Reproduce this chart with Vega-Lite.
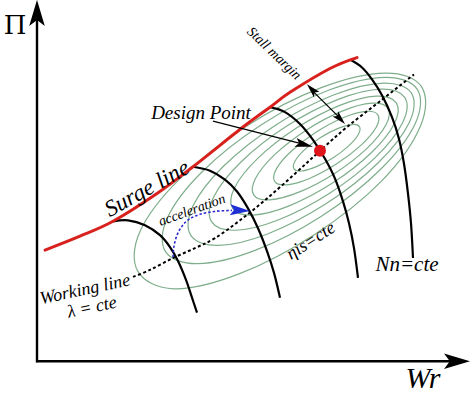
{
  "$schema": "https://vega.github.io/schema/vega-lite/v6.json",
  "width": 474,
  "height": 394,
  "padding": 0,
  "autosize": {"type": "fit", "contains": "padding"},
  "background": "white",
  "config": {"view": {"stroke": null}, "text": {"font": "'Liberation Serif', 'DejaVu Serif', serif"}},
  "datasets": {
    "ellipses": [
      {"e":1,"k":0,"x":359.4,"y":127.6},{"e":1,"k":1,"x":358.3,"y":135.5},{"e":1,"k":2,"x":348.7,"y":147.0},{"e":1,"k":3,"x":333.2,"y":159.0},{"e":1,"k":4,"x":315.9,"y":168.2},{"e":1,"k":5,"x":301.7,"y":172.3},{"e":1,"k":6,"x":294.0,"y":170.2},{"e":1,"k":7,"x":295.1,"y":162.3},{"e":1,"k":8,"x":304.7,"y":150.8},{"e":1,"k":9,"x":320.2,"y":138.8},{"e":1,"k":10,"x":337.5,"y":129.6},{"e":1,"k":11,"x":351.7,"y":125.5},
      {"e":2,"k":0,"x":377.9,"y":115.7},{"e":2,"k":1,"x":376.2,"y":128.2},{"e":2,"k":2,"x":361.1,"y":146.2},{"e":2,"k":3,"x":336.7,"y":165.1},{"e":2,"k":4,"x":309.5,"y":179.8},{"e":2,"k":5,"x":286.8,"y":186.2},{"e":2,"k":6,"x":274.7,"y":182.7},{"e":2,"k":7,"x":276.4,"y":170.2},{"e":2,"k":8,"x":291.5,"y":152.2},{"e":2,"k":9,"x":315.9,"y":133.3},{"e":2,"k":10,"x":343.1,"y":118.6},{"e":2,"k":11,"x":365.8,"y":112.2},
      {"e":3,"k":0,"x":387.9,"y":109.1},{"e":3,"k":1,"x":386.0,"y":125.8},{"e":3,"k":2,"x":366.7,"y":149.8},{"e":3,"k":3,"x":335.0,"y":174.5},{"e":3,"k":4,"x":299.5,"y":193.4},{"e":3,"k":5,"x":269.8,"y":201.4},{"e":3,"k":6,"x":253.7,"y":196.3},{"e":3,"k":7,"x":255.6,"y":179.6},{"e":3,"k":8,"x":274.9,"y":155.6},{"e":3,"k":9,"x":306.6,"y":130.9},{"e":3,"k":10,"x":342.1,"y":112.0},{"e":3,"k":11,"x":371.8,"y":104.0},
      {"e":4,"k":0,"x":396.3,"y":103.7},{"e":4,"k":1,"x":394.3,"y":124.7},{"e":4,"k":2,"x":371.0,"y":154.2},{"e":4,"k":3,"x":332.5,"y":184.5},{"e":4,"k":4,"x":289.2,"y":207.4},{"e":4,"k":5,"x":252.7,"y":216.7},{"e":4,"k":6,"x":232.7,"y":209.9},{"e":4,"k":7,"x":234.7,"y":188.9},{"e":4,"k":8,"x":258.0,"y":159.4},{"e":4,"k":9,"x":296.5,"y":129.1},{"e":4,"k":10,"x":339.8,"y":106.2},{"e":4,"k":11,"x":376.3,"y":96.9},
      {"e":5,"k":0,"x":404.7,"y":98.2},{"e":5,"k":1,"x":402.7,"y":123.4},{"e":5,"k":2,"x":375.4,"y":158.6},{"e":5,"k":3,"x":330.0,"y":194.5},{"e":5,"k":4,"x":278.8,"y":221.4},{"e":5,"k":5,"x":235.5,"y":232.0},{"e":5,"k":6,"x":211.7,"y":223.6},{"e":5,"k":7,"x":213.7,"y":198.4},{"e":5,"k":8,"x":241.0,"y":163.2},{"e":5,"k":9,"x":286.4,"y":127.3},{"e":5,"k":10,"x":337.6,"y":100.4},{"e":5,"k":11,"x":380.9,"y":89.8},
      {"e":6,"k":0,"x":411.4,"y":93.8},{"e":6,"k":1,"x":409.4,"y":123.1},{"e":6,"k":2,"x":378.5,"y":163.7},{"e":6,"k":3,"x":326.7,"y":204.9},{"e":6,"k":4,"x":268.1,"y":235.5},{"e":6,"k":5,"x":218.4,"y":247.3},{"e":6,"k":6,"x":190.8,"y":237.2},{"e":6,"k":7,"x":192.8,"y":207.9},{"e":6,"k":8,"x":223.7,"y":167.3},{"e":6,"k":9,"x":275.5,"y":126.1},{"e":6,"k":10,"x":334.1,"y":95.5},{"e":6,"k":11,"x":383.8,"y":83.7},
      {"e":7,"k":0,"x":417.3,"y":90.0},{"e":7,"k":1,"x":415.4,"y":124.1},{"e":7,"k":2,"x":380.4,"y":170.8},{"e":7,"k":3,"x":321.4,"y":217.9},{"e":7,"k":4,"x":254.4,"y":252.6},{"e":7,"k":5,"x":197.4,"y":265.7},{"e":7,"k":6,"x":165.5,"y":253.6},{"e":7,"k":7,"x":167.4,"y":219.5},{"e":7,"k":8,"x":202.4,"y":172.8},{"e":7,"k":9,"x":261.4,"y":125.7},{"e":7,"k":10,"x":328.4,"y":91.0},{"e":7,"k":11,"x":385.4,"y":77.9},
      {"e":8,"k":0,"x":421.5,"y":87.3},{"e":8,"k":1,"x":420.5,"y":127.0},{"e":8,"k":2,"x":382.0,"y":182.0},{"e":8,"k":3,"x":315.0,"y":236.0},{"e":8,"k":4,"x":239.0,"y":276.0},{"e":8,"k":5,"x":173.8,"y":291.0},{"e":8,"k":6,"x":137.9,"y":273.5},{"e":8,"k":7,"x":140.0,"y":233.2},{"e":8,"k":8,"x":179.5,"y":180.5},{"e":8,"k":9,"x":245.9,"y":127.4},{"e":8,"k":10,"x":321.3,"y":88.3},{"e":8,"k":11,"x":385.6,"y":73.6}
    ],
    "surge": [
      {"x":45,"y":252},{"x":80,"y":238},{"x":113,"y":223},{"x":157,"y":195},{"x":193,"y":168},{"x":243,"y":128},{"x":270,"y":108},{"x":290,"y":93},{"x":330,"y":69},{"x":357,"y":58}
    ],
    "speed": [
      {"n":1,"x":113,"y":223},{"n":1,"x":128,"y":222},{"n":1,"x":145,"y":227},{"n":1,"x":160,"y":237},{"n":1,"x":170,"y":249},{"n":1,"x":178,"y":263},{"n":1,"x":186,"y":282},{"n":1,"x":192,"y":300},{"n":1,"x":197,"y":315},
      {"n":2,"x":193,"y":168},{"n":2,"x":210,"y":172},{"n":2,"x":225,"y":181},{"n":2,"x":237,"y":193},{"n":2,"x":248,"y":210},{"n":2,"x":258,"y":230},{"n":2,"x":267,"y":253},{"n":2,"x":274,"y":275},{"n":2,"x":280,"y":300},
      {"n":3,"x":270,"y":108},{"n":3,"x":285,"y":113},{"n":3,"x":300,"y":125},{"n":3,"x":313,"y":141},{"n":3,"x":325,"y":160},{"n":3,"x":335,"y":180},{"n":3,"x":343,"y":203},{"n":3,"x":349,"y":225},{"n":3,"x":354,"y":250},{"n":3,"x":358,"y":280},
      {"n":4,"x":350,"y":60},{"n":4,"x":362,"y":68},{"n":4,"x":372,"y":80},{"n":4,"x":382,"y":96},{"n":4,"x":392,"y":118},{"n":4,"x":399,"y":140},{"n":4,"x":404,"y":165},{"n":4,"x":408,"y":195},{"n":4,"x":411,"y":225},{"n":4,"x":413,"y":260}
    ],
    "working": [
      {"x":133,"y":279},{"x":150,"y":272},{"x":173,"y":260},{"x":195,"y":250},{"x":215,"y":240},{"x":240,"y":222},{"x":267,"y":200},{"x":295,"y":175},{"x":320,"y":152},{"x":347,"y":128},{"x":380,"y":102},{"x":414,"y":75}
    ],
    "accel": [
      {"x":173,"y":259},{"x":174,"y":248},{"x":177,"y":237},{"x":182,"y":228},{"x":189,"y":221},{"x":200,"y":216},{"x":215,"y":213},{"x":232,"y":212}
    ]
  },
  "encoding": {
    "x": {"field": "x", "type": "quantitative", "scale": {"domain": [0, 474], "nice": false, "zero": false}, "axis": null},
    "y": {"field": "y", "type": "quantitative", "scale": {"domain": [0, 394], "nice": false, "zero": false, "reverse": true}, "axis": null}
  },
  "layer": [
    {
      "data": {"name": "ellipses"},
      "mark": {"type": "line", "interpolate": "cardinal-closed", "color": "#7fae8c", "strokeWidth": 1.2},
      "encoding": {"detail": {"field": "e", "type": "nominal"}, "order": {"field": "k", "type": "quantitative"}}
    },
    {
      "data": {"name": "working"},
      "mark": {"type": "line", "interpolate": "cardinal", "color": "black", "strokeWidth": 2, "strokeDash": [3, 2.5]},
      "encoding": {"order": {"field": "x", "type": "quantitative"}}
    },
    {
      "data": {"name": "speed"},
      "mark": {"type": "line", "interpolate": "cardinal", "color": "black", "strokeWidth": 2.2},
      "encoding": {"detail": {"field": "n", "type": "nominal"}, "order": {"field": "x", "type": "quantitative"}}
    },
    {
      "data": {"name": "surge"},
      "mark": {"type": "line", "interpolate": "cardinal", "color": "#d8211d", "strokeWidth": 3, "strokeCap": "round"},
      "encoding": {"order": {"field": "x", "type": "quantitative"}}
    },
    {
      "data": {"name": "accel"},
      "mark": {"type": "line", "interpolate": "cardinal", "color": "#2b2bd0", "strokeWidth": 1.6, "strokeDash": [2.5, 2]},
      "encoding": {"order": {"field": "x", "type": "quantitative"}}
    },
    {
      "data": {"values": [{"x": 37, "y": 365, "x2": 37, "y2": 14}, {"x": 36, "y": 364, "x2": 450, "y2": 364}]},
      "mark": {"type": "rule", "color": "black", "strokeWidth": 2.4},
      "encoding": {"x2": {"field": "x2"}, "y2": {"field": "y2"}}
    },
    {
      "data": {"values": [{"x": 213, "y": 122, "x2": 306, "y2": 146}, {"x": 310, "y": 89, "x2": 342, "y2": 121}]},
      "mark": {"type": "rule", "color": "black", "strokeWidth": 1.2},
      "encoding": {"x2": {"field": "x2"}, "y2": {"field": "y2"}}
    },
    {
      "data": {"values": [{"x": 37, "y": 13}]},
      "mark": {"type": "point", "shape": "M1,0L-1,-0.6L-0.55,0L-1,0.6Z", "size": 676, "angle": -90, "filled": true, "color": "black", "opacity": 1, "strokeWidth": 0},
      "encoding": {}
    },
    {
      "data": {"values": [{"x": 457, "y": 364}]},
      "mark": {"type": "point", "shape": "M1,0L-1,-0.6L-0.55,0L-1,0.6Z", "size": 676, "angle": 0, "filled": true, "color": "black", "opacity": 1, "strokeWidth": 0},
      "encoding": {}
    },
    {
      "data": {"values": [{"x": 304.3, "y": 145.7}]},
      "mark": {"type": "point", "shape": "M1,0L-1,-0.5L-0.6,0L-1,0.5Z", "size": 324, "angle": 14.6, "filled": true, "color": "black", "opacity": 1, "strokeWidth": 0},
      "encoding": {}
    },
    {
      "data": {"values": [{"x": 311.8, "y": 90.1}]},
      "mark": {"type": "point", "shape": "M1,0L-1,-0.55L-0.6,0L-1,0.55Z", "size": 196, "angle": 226.5, "filled": true, "color": "black", "opacity": 1, "strokeWidth": 0},
      "encoding": {}
    },
    {
      "data": {"values": [{"x": 340.2, "y": 119.9}]},
      "mark": {"type": "point", "shape": "M1,0L-1,-0.55L-0.6,0L-1,0.55Z", "size": 196, "angle": 46.5, "filled": true, "color": "black", "opacity": 1, "strokeWidth": 0},
      "encoding": {}
    },
    {
      "data": {"values": [{"x": 240, "y": 212}]},
      "mark": {"type": "point", "shape": "M1,0L-1,-0.55L-0.6,0L-1,0.55Z", "size": 400, "angle": 3, "filled": true, "color": "#1e2fd6", "opacity": 1, "strokeWidth": 0},
      "encoding": {}
    },
    {
      "data": {"values": [{"x": 320, "y": 152}]},
      "mark": {"type": "point", "shape": "circle", "size": 144, "filled": true, "color": "#e0141b", "opacity": 1, "strokeWidth": 0},
      "encoding": {}
    },
    {
      "data": {"values": [{"label": "Π", "x": 15, "y": 26}]},
      "mark": {"type": "text", "font": "DejaVu Serif", "fontSize": 26, "align": "center", "baseline": "middle", "color": "black"},
      "encoding": {"text": {"field": "label"}}
    },
    {
      "data": {"values": [{"label": "Wr", "x": 423, "y": 382}]},
      "mark": {"type": "text", "fontStyle": "italic", "fontSize": 30, "align": "center", "baseline": "middle", "color": "black"},
      "encoding": {"text": {"field": "label"}}
    },
    {
      "data": {"values": [{"label": "Surge line", "x": 147, "y": 190}]},
      "mark": {"type": "text", "fontStyle": "italic", "fontSize": 23, "angle": -29, "align": "center", "baseline": "middle", "color": "black"},
      "encoding": {"text": {"field": "label"}}
    },
    {
      "data": {"values": [{"label": "Design Point", "x": 201, "y": 114}]},
      "mark": {"type": "text", "fontStyle": "italic", "fontSize": 19, "align": "center", "baseline": "middle", "color": "black"},
      "encoding": {"text": {"field": "label"}}
    },
    {
      "data": {"values": [{"label": "Stall margin", "x": 274, "y": 54}]},
      "mark": {"type": "text", "fontStyle": "italic", "fontSize": 14, "angle": 44, "align": "center", "baseline": "middle", "color": "black"},
      "encoding": {"text": {"field": "label"}}
    },
    {
      "data": {"values": [{"label": "acceleration", "x": 192, "y": 212}]},
      "mark": {"type": "text", "fontStyle": "italic", "fontSize": 14, "angle": -20, "align": "center", "baseline": "middle", "color": "black"},
      "encoding": {"text": {"field": "label"}}
    },
    {
      "data": {"values": [{"label": "Working line", "x": 85, "y": 292}, {"label": "λ = cte", "x": 92, "y": 310}]},
      "mark": {"type": "text", "fontStyle": "italic", "fontSize": 18, "angle": -12, "align": "center", "baseline": "middle", "color": "black"},
      "encoding": {"text": {"field": "label"}}
    },
    {
      "data": {"values": [{"label": "ηis=cte", "x": 311, "y": 243}]},
      "mark": {"type": "text", "fontStyle": "italic", "fontSize": 18, "angle": -33, "align": "center", "baseline": "middle", "color": "black"},
      "encoding": {"text": {"field": "label"}}
    },
    {
      "data": {"values": [{"label": "Nn=cte", "x": 407, "y": 267}]},
      "mark": {"type": "text", "fontStyle": "italic", "fontSize": 21, "align": "center", "baseline": "middle", "color": "black"},
      "encoding": {"text": {"field": "label"}}
    }
  ]
}
